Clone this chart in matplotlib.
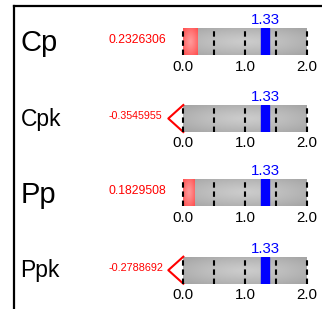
import numpy as np
import matplotlib
matplotlib.use("Agg")
import matplotlib.pyplot as plt
from matplotlib.lines import Line2D

plt.rcParams['font.family'] = ['Liberation Sans', 'DejaVu Sans']

# ---- data ----
metrics = ["Cp", "Cpk", "Pp", "Ppk"]
values = [0.2326306, -0.3545955, 0.1829508, -0.2788692]
value_labels = ["0.2326306", "-0.3545955", "0.1829508", "-0.2788692"]
target = 1.33
target_label = "1.33"
ref_lines = [0.0, 0.5, 1.0, 1.5, 2.0]
tick_values = [0.0, 1.0, 2.0]
tick_labels = ["0.0", "1.0", "2.0"]
x_range = (0.0, 2.0)

# ---- layout (pixels) ----
W, H = 322, 309
fig = plt.figure(figsize=(W / 100, H / 100), dpi=100)
bar_left, bar_right = 183.3, 306.7
bar_tops = [28.3, 105.0, 179.3, 256.7]
bar_h = 27.0
name_sizes = [21, 16.5, 21, 16.5]
name_baselines = [50.7, 126.0, 203.3, 276.7]
val_sizes = [8.8, 7.7, 8.8, 7.8]


def radial(h, w, c_center, c_edge):
    yy, xx = np.mgrid[-1:1:h * 1j, -1:1:w * 1j]
    r = np.clip(np.sqrt(xx ** 2 + yy ** 2) / np.sqrt(2), 0, 1)
    c0 = np.array(c_center)[None, None, :]
    c1 = np.array(c_edge)[None, None, :]
    return c0 + (c1 - c0) * r[..., None] ** 1.2


gray_img = radial(60, 200, (0.80, 0.80, 0.80), (0.64, 0.64, 0.64))
red_img = radial(60, 40, (1.0, 0.60, 0.60), (1.0, 0.30, 0.30))

for i, m in enumerate(metrics):
    top = bar_tops[i]
    ax = fig.add_axes([bar_left / W, (H - top - bar_h) / H,
                       (bar_right - bar_left) / W, bar_h / H])
    ax.set_xlim(*x_range)
    ax.set_ylim(0, 1)
    for s in ax.spines.values():
        s.set_visible(False)
    ax.imshow(gray_img, extent=[x_range[0], x_range[1], 0, 1],
              aspect='auto', zorder=1, interpolation='bilinear')
    v = values[i]
    if v > 0:
        ax.imshow(red_img, extent=[0, v, 0, 1], aspect='auto', zorder=2,
                  interpolation='bilinear')
    else:
        ax.add_line(Line2D([0, -0.243, 0], [1, 0.5, 0], color='#ff0000',
                           lw=1.5, clip_on=False, zorder=3))
    ax.set_xlim(*x_range)
    ax.axvspan(target - 0.065, target + 0.065, color='#0000ff', zorder=3)
    for r in ref_lines:
        ax.axvline(r, color='black', lw=1.5, ls=(0, (2.6, 1.8)), zorder=4,
                   clip_on=False)
    ax.set_yticks([])
    ax.set_xticks(tick_values)
    ax.set_xticklabels(tick_labels, fontsize=10.8)
    ax.tick_params(axis='x', length=0, pad=3.2)
    ax.text(target, 1.15, target_label, color='#0000ff', fontsize=10.8,
            ha='center', va='baseline', transform=ax.transData)
    # value text
    fig.text(109 / W, (H - (top + bar_h / 2 + 0.8)) / H, value_labels[i],
             color='#ff0000', fontsize=val_sizes[i], ha='left', va='baseline')
    # metric name
    fig.text(20.5 / W, (H - name_baselines[i]) / H, m, fontsize=name_sizes[i],
             ha='left', va='baseline', color='black')

# frame
fig.add_artist(Line2D([14 / W, 14 / W], [0, (H - 6) / H], color='black',
                      lw=1.6, transform=fig.transFigure))
fig.add_artist(Line2D([14 / W, 1.0], [(H - 6) / H, (H - 6) / H], color='black',
                      lw=1.6, transform=fig.transFigure))

fig.savefig("out.png", dpi=100)
